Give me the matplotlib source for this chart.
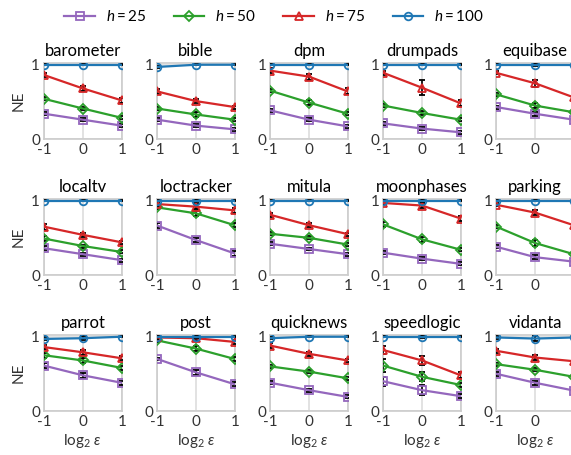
import matplotlib
matplotlib.use("Agg")
import matplotlib.pyplot as plt
from matplotlib.lines import Line2D

# datos
datasets = ["barometer", "bible", "dpm", "drumpads", "equibase",
            "localtv", "loctracker", "mitula", "moonphases", "parking",
            "parrot", "post", "quicknews", "speedlogic", "vidanta"]
log_eps = [-1, 0, 1]
h_values = [25, 50, 75, 100]

ne_h25 = [[0.34, 0.26, 0.18], [0.26, 0.18, 0.13], [0.385, 0.26, 0.17], [0.21, 0.14, 0.09], [0.43, 0.34, 0.26],
          [0.36, 0.28, 0.20], [0.665, 0.47, 0.29], [0.42, 0.35, 0.28], [0.30, 0.22, 0.15], [0.38, 0.24, 0.18],
          [0.61, 0.48, 0.38], [0.70, 0.52, 0.36], [0.38, 0.28, 0.19], [0.40, 0.28, 0.20], [0.50, 0.38, 0.275]]
ne_h50 = [[0.54, 0.41, 0.285], [0.41, 0.33, 0.26], [0.65, 0.49, 0.34], [0.45, 0.35, 0.26], [0.60, 0.45, 0.36],
          [0.49, 0.39, 0.31], [0.91, 0.83, 0.67], [0.555, 0.50, 0.41], [0.68, 0.48, 0.34], [0.65, 0.43, 0.28],
          [0.75, 0.68, 0.58], [0.95, 0.84, 0.70], [0.60, 0.53, 0.44], [0.61, 0.46, 0.35], [0.63, 0.555, 0.46]]
ne_h75 = [[0.86, 0.68, 0.52], [0.64, 0.51, 0.43], [0.92, 0.84, 0.64], [0.89, 0.69, 0.48], [0.89, 0.75, 0.56],
          [0.65, 0.54, 0.44], [0.955, 0.92, 0.87], [0.81, 0.67, 0.55], [0.97, 0.935, 0.76], [0.945, 0.84, 0.67],
          [0.86, 0.79, 0.71], [0.99, 0.98, 0.93], [0.88, 0.77, 0.68], [0.82, 0.68, 0.48], [0.81, 0.72, 0.67]]
ne_h100 = [[1.0, 1.0, 1.0], [0.97, 1.0, 1.0], [1.0, 1.0, 1.0], [1.0, 1.0, 1.0], [1.0, 1.0, 1.0],
           [1.0, 1.0, 1.0], [1.0, 1.0, 1.0], [1.0, 1.0, 1.0], [1.0, 1.0, 1.0], [1.0, 1.0, 1.0],
           [0.97, 0.98, 1.0], [1.0, 1.0, 1.0], [0.98, 1.0, 1.0], [1.0, 1.0, 1.0], [0.99, 0.975, 0.99]]

err_h25 = [[0.02, 0.02, 0.02], [0.02, 0.02, 0.02], [0.02, 0.02, 0.02], [0.02, 0.02, 0.02], [0.02, 0.03, 0.02],
           [0.03, 0.02, 0.02], [0.03, 0.03, 0.03], [0.02, 0.02, 0.02], [0.02, 0.02, 0.02], [0.02, 0.03, 0.02],
           [0.03, 0.03, 0.03], [0.02, 0.03, 0.03], [0.02, 0.02, 0.02], [0.06, 0.07, 0.03], [0.03, 0.03, 0.03]]
err_h50 = [[0.02, 0.02, 0.02], [0.02, 0.03, 0.02], [0.02, 0.03, 0.02], [0.02, 0.03, 0.02], [0.02, 0.03, 0.02],
           [0.03, 0.02, 0.02], [0.02, 0.03, 0.03], [0.02, 0.02, 0.02], [0.03, 0.03, 0.02], [0.02, 0.04, 0.02],
           [0.03, 0.03, 0.03], [0.02, 0.03, 0.03], [0.02, 0.02, 0.02], [0.09, 0.06, 0.03], [0.02, 0.02, 0.02]]
err_h75 = [[0.03, 0.04, 0.03], [0.03, 0.03, 0.02], [0.03, 0.04, 0.04], [0.03, 0.10, 0.04], [0.02, 0.05, 0.03],
           [0.04, 0.03, 0.02], [0.02, 0.03, 0.03], [0.03, 0.03, 0.02], [0.02, 0.03, 0.03], [0.02, 0.03, 0.03],
           [0.03, 0.03, 0.03], [0.02, 0.03, 0.03], [0.03, 0.03, 0.02], [0.05, 0.06, 0.04], [0.03, 0.03, 0.02]]
err_h100 = [[0.01, 0.01, 0.01], [0.01, 0.01, 0.01], [0.01, 0.01, 0.01], [0.01, 0.01, 0.01], [0.01, 0.02, 0.01],
            [0.01, 0.01, 0.01], [0.01, 0.02, 0.01], [0.01, 0.01, 0.01], [0.01, 0.02, 0.01], [0.01, 0.01, 0.01],
            [0.02, 0.03, 0.01], [0.01, 0.02, 0.01], [0.01, 0.01, 0.01], [0.01, 0.02, 0.01], [0.02, 0.03, 0.01]]

series = [(ne_h25, err_h25), (ne_h50, err_h50), (ne_h75, err_h75), (ne_h100, err_h100)]
colores = ["#9467bd", "#2ca02c", "#d62728", "#1f77b4"]
marcadores = ["s", "D", "^", "o"]
tam_marcador = [5.5, 5, 5.5, 5.5]

plt.rcParams["font.family"] = ["Lato", "DejaVu Sans"]
plt.rcParams["mathtext.fontset"] = "custom"
plt.rcParams["mathtext.rm"] = "Lato"
plt.rcParams["mathtext.it"] = "Lato:italic"
plt.rcParams["axes.unicode_minus"] = False
plt.rcParams["font.size"] = 11

fig, axes = plt.subplots(3, 5, figsize=(5.71, 4.55), dpi=100)
fig.subplots_adjust(left=0.0776, right=1.005, bottom=0.0967, top=0.861,
                    wspace=0.46, hspace=0.795)

for i, ax in enumerate(axes.flat):
    for j in range(4):
        vals, errs = series[j]
        ax.errorbar(log_eps, vals[i], yerr=errs[i], color=colores[j], ecolor="black",
                    elinewidth=1.2, capsize=2, capthick=1.2, lw=1.6,
                    marker=marcadores[j], markersize=tam_marcador[j],
                    markerfacecolor="none", markeredgewidth=1.3, zorder=3 + j)
    ax.set_title(datasets[i], fontsize=12, pad=5)
    ax.set_xlim(-1, 1)
    ax.set_ylim(0, 1.02)
    ax.set_xticks([-1, 0, 1])
    ax.set_xticklabels(["-1", "0", "1"])
    ax.set_yticks([0, 1])
    ax.tick_params(length=0, labelsize=11, pad=3, colors="#333333")
    ax.grid(True, color="#dddddd", lw=1.2, zorder=0)
    ax.set_axisbelow(True)
    for s in ax.spines.values():
        s.set_color("#cccccc")
        s.set_linewidth(1.2)
    if i % 5 == 0:
        ax.set_ylabel("NE", fontsize=11, color="#333333")
    if i >= 10:
        ax.set_xlabel(r"$\log_2\,\epsilon$", fontsize=11, color="#333333", labelpad=2)

# leyenda solo con linea y marcador
handles = [Line2D([], [], color=colores[j], lw=1.6, marker=marcadores[j],
                  markersize=tam_marcador[j], markerfacecolor="none", markeredgewidth=1.3)
           for j in range(4)]
labels = [f"$h = {h}$" for h in h_values]
fig.legend(handles, labels, loc="upper center", bbox_to_anchor=(0.48, 1.01), ncol=4,
           frameon=False, fontsize=11, handlelength=2, handletextpad=0.7,
           columnspacing=1.8)

fig.savefig("out.png", dpi=100)
